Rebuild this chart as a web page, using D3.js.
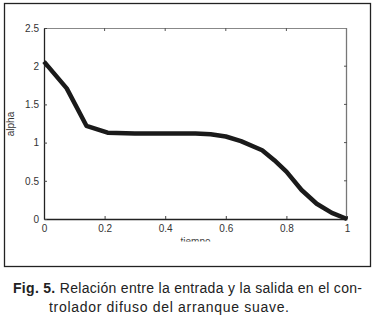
<!DOCTYPE html>
<html>
<head>
<meta charset="utf-8">
<script src="https://cdn.jsdelivr.net/npm/d3@7"></script>
<style>
body { margin: 0; background: #fff; }
svg { display: block; font-family: "Liberation Sans", Arial, sans-serif; }
.tick text { fill: #333; font-size: 10px; }
</style>
</head>
<body>
<div class="container"></div>
<script>
// tiempo vs alpha
var tiempo = [0, 0.075, 0.14, 0.21, 0.3, 0.4, 0.5, 0.55, 0.6, 0.65, 0.72, 0.76, 0.8, 0.85, 0.9, 0.95, 1];
var alpha  = [2.06, 1.71, 1.22, 1.13, 1.12, 1.12, 1.12, 1.11, 1.08, 1.02, 0.90, 0.77, 0.62, 0.38, 0.2, 0.08, 0.0];
var xTicks = [0, 0.2, 0.4, 0.6, 0.8, 1];
var yTicks = [0, 0.5, 1, 1.5, 2, 2.5];
var captionLines = ['Relación entre la entrada y la salida en el con-', 'trolador difuso del arranque suave.'];

const WIDTH = 372;
const HEIGHT = 321;
const LEFT = 44, RIGHT = 347, TOP = 28, BOTTOM = 219;

var translate = function(x, y){
	return "translate(" + x + "," + y + ")";
};

var svg = d3.select('.container').append('svg')
	.attr('width', WIDTH)
	.attr('height', HEIGHT);

// outer frame
svg.append('rect')
	.attr('x', 4.5).attr('y', 3.5)
	.attr('width', 366).attr('height', 263)
	.attr('fill', 'none')
	.attr('stroke', '#222')
	.attr('stroke-width', 1.3);

var xScale = d3.scaleLinear().domain([0, 1]).range([LEFT, RIGHT]);
var yScale = d3.scaleLinear().domain([0, 2.5]).range([BOTTOM, TOP]);

var fmt = function(d){ return d3.format('')(d); };

// box (top/right lighter)
svg.append('line').attr('x1', LEFT).attr('x2', RIGHT).attr('y1', TOP + 0.5).attr('y2', TOP + 0.5)
	.attr('stroke', '#888');
svg.append('line').attr('x1', RIGHT - 0.5).attr('x2', RIGHT - 0.5).attr('y1', TOP).attr('y2', BOTTOM)
	.attr('stroke', '#777').attr('stroke-width', 1.3);

var xAxis = d3.axisBottom(xScale).tickValues(xTicks).tickSizeInner(-3).tickSizeOuter(0).tickPadding(6).tickFormat(fmt);
var yAxis = d3.axisLeft(yScale).tickValues(yTicks).tickSizeInner(-3).tickSizeOuter(0).tickPadding(5).tickFormat(fmt);

svg.append('g')
	.attr('transform', translate(0, BOTTOM))
	.classed('xAxis', true)
	.call(xAxis);

svg.append('g')
	.attr('transform', translate(LEFT, 0))
	.classed('yAxis', true)
	.call(yAxis);

svg.selectAll('.domain').attr('stroke', '#222').attr('stroke-width', 1.3);
svg.selectAll('.tick line').attr('stroke', '#444');

// mirrored ticks on top and right
svg.selectAll('.topTick').data(xTicks.slice(1, -1)).enter().append('line')
	.attr('x1', function(d){ return xScale(d); })
	.attr('x2', function(d){ return xScale(d); })
	.attr('y1', TOP).attr('y2', TOP + 3)
	.attr('stroke', '#555');
svg.selectAll('.rightTick').data(yTicks.slice(1, -1)).enter().append('line')
	.attr('x1', RIGHT).attr('x2', RIGHT - 3)
	.attr('y1', function(d){ return yScale(d); })
	.attr('y2', function(d){ return yScale(d); })
	.attr('stroke', '#555');

// curve
var line = d3.line()
	.x(function(d, i){ return xScale(tiempo[i]); })
	.y(function(d){ return yScale(d); });

svg.append('path')
	.attr('d', line(alpha))
	.attr('fill', 'none')
	.attr('stroke', '#1a1a1a')
	.attr('stroke-width', 4.5)
	.attr('stroke-linejoin', 'round');

// axis labels
svg.append('text')
	.attr('transform', translate(14, 124) + ' rotate(-90)')
	.attr('text-anchor', 'middle')
	.attr('font-size', 10)
	.attr('fill', '#333')
	.text('alpha');

svg.append('clipPath').attr('id', 'cut')
	.append('rect').attr('x', 0).attr('y', 0).attr('width', WIDTH).attr('height', 241.5);
svg.append('text')
	.attr('clip-path', 'url(#cut)')
	.attr('x', xScale(0.5)).attr('y', 245)
	.attr('text-anchor', 'middle')
	.attr('font-size', 10)
	.attr('fill', '#444')
	.text('tiempo');

// caption
var cap = svg.append('text')
	.attr('x', 13).attr('y', 293)
	.attr('font-size', 14)
	.attr('fill', '#222')
	.attr('textLength', 349)
	.attr('lengthAdjust', 'spacing');
cap.append('tspan').attr('font-weight', 'bold').text('Fig. 5. ');
cap.append('tspan').text(captionLines[0]);

svg.append('text')
	.attr('x', 49).attr('y', 312)
	.attr('font-size', 14)
	.attr('fill', '#222')
	.attr('textLength', 240)
	.attr('lengthAdjust', 'spacing')
	.text(captionLines[1]);
</script>
</body>
</html>
